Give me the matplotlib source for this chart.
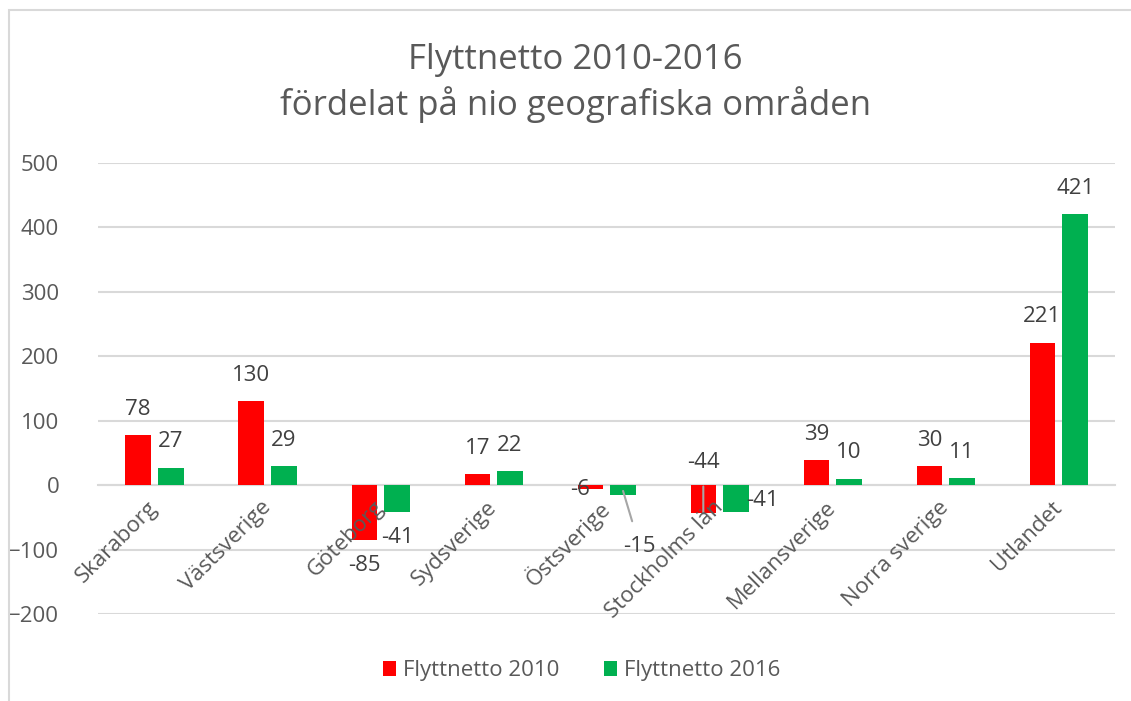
import matplotlib.pyplot as plt
import numpy as np

plt.rcParams['font.family'] = ['Open Sans', 'DejaVu Sans']

# values
regions = ['Skaraborg', 'Västsverige', 'Göteborg', 'Sydsverige', 'Östsverige',
           'Stockholms län', 'Mellansverige', 'Norra sverige', 'Utlandet']
netto_2010 = [78, 130, -85, 17, -6, -44, 39, 30, 221]
netto_2016 = [27, 29, -41, 22, -15, -41, 10, 11, 421]
yticks = [-200, -100, 0, 100, 200, 300, 400, 500]

RED = '#FF0000'
GREEN = '#00B050'
TXT = '#595959'
LAB = '#404040'
GRID = '#D9D9D9'

fig = plt.figure(figsize=(11.31, 7.01), dpi=100)
ax = fig.add_axes([0.0867, 0.1241, 0.8994, 0.6434])

# outer chart border (left + top visible)
fig.patches.append(plt.Rectangle((9 / 1131, -0.1), 1.2, 0.1 + 691 / 701,
                                 transform=fig.transFigure, fill=False,
                                 edgecolor=GRID, linewidth=1.5))

x = np.arange(len(regions))
w = 0.225
off = 0.145
b1 = ax.bar(x - off, netto_2010, w, color=RED, label='Flyttnetto 2010', zorder=3)
b2 = ax.bar(x + off, netto_2016, w, color=GREEN, label='Flyttnetto 2016', zorder=3)

ax.set_xlim(-0.5, len(regions) - 0.5)
ax.set_ylim(-200, 500)
ax.set_yticks(yticks)
ax.yaxis.grid(True, color=GRID, linewidth=1.5, zorder=0)
ax.tick_params(axis='y', length=0, pad=28, labelsize=16, labelcolor=TXT)
for s in ['left', 'right', 'top']:
    ax.spines[s].set_visible(False)
ax.spines['bottom'].set_position(('data', 0))
ax.spines['bottom'].set_color(GRID)
ax.spines['bottom'].set_linewidth(1.5)
ax.set_xticks(x)
ax.set_xticklabels(regions, rotation=45, ha='right', va='center',
                   rotation_mode='anchor', fontsize=16, color=TXT)
ax.tick_params(axis='x', length=0, pad=14)
ax.xaxis.set_zorder(5)  # category labels sit on top of the bars


def label(bar, val, dx=0, dy=None, ha='center', va=None):
    cx = bar.get_x() + bar.get_width() / 2
    if dy is None:
        dy = 11 if val >= 0 else -11
    if va is None:
        va = 'bottom' if val >= 0 else 'top'
    ax.annotate(str(val), (cx, val), xytext=(dx, dy), textcoords='offset points',
                ha=ha, va=va, fontsize=16, color=LAB, zorder=4)


for i in range(len(regions)):
    r, g = b1[i], b2[i]
    if regions[i] == 'Östsverige':
        label(r, netto_2010[i], dx=-7, dy=0, va='center')
        ax.annotate(str(netto_2016[i]), (g.get_x() + g.get_width() / 2, netto_2016[i] * 0.6),
                    xytext=(12, -40), textcoords='offset points', ha='center', va='center',
                    fontsize=16, color=LAB, zorder=4,
                    arrowprops=dict(arrowstyle='-', color='#A6A6A6', lw=1.5,
                                    shrinkA=9, shrinkB=0))
    elif regions[i] == 'Stockholms län':
        ax.annotate(str(netto_2010[i]), (r.get_x() + r.get_width() / 2, netto_2010[i]),
                    xytext=(0, 37), textcoords='offset points', ha='center', va='center',
                    fontsize=16, color=LAB, zorder=4,
                    arrowprops=dict(arrowstyle='-', color='#A6A6A6', lw=1.5,
                                    shrinkA=8, shrinkB=0))
        ax.annotate(str(netto_2016[i]), (g.get_x() + g.get_width(), netto_2016[i] * 0.6),
                    xytext=(-2, 0), textcoords='offset points', ha='left', va='center',
                    fontsize=16, color=LAB, zorder=4)
    else:
        label(r, netto_2010[i])
        label(g, netto_2016[i])

fig.text(0.509, 0.938, 'Flyttnetto 2010-2016\nfördelat på nio geografiska områden',
         ha='center', va='top', fontsize=25, color=TXT, linespacing=1.3)

fig.legend(handles=[b1, b2], loc='center', bbox_to_anchor=(0.514, 0.043), ncol=2,
           frameon=False, fontsize=16, labelcolor=TXT, handlelength=0.6,
           handleheight=0.6, handletextpad=0.3, columnspacing=2.0)

plt.savefig('out.png', dpi=100)
